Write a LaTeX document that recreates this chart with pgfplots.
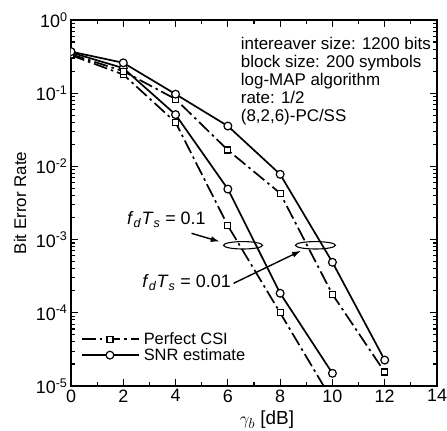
\documentclass[border=0pt]{standalone}
\usepackage{fontspec}
\setmainfont{Liberation Sans}
\usepackage{pgfplots}
\pgfplotsset{compat=1.18}
\usetikzlibrary{calc,arrows.meta}

\newcommand{\fdts}{\textit{f}\textsubscript{\textit{d}}\textit{T}\textsubscript{\textit{s}}}

\pgfplotsset{
  csi/.style={black, line width=1.7bp, dash pattern=on 14bp off 4bp on 2.5bp off 4bp,
    mark=square*, mark size=3bp, mark options={solid, fill=white, line width=1.2bp}},
  snr/.style={black, line width=1.7bp, solid,
    mark=*, mark size=3.9bp, mark options={solid, fill=white, line width=1.2bp}},
}

\begin{document}
\begin{tikzpicture}
\begin{axis}[
  name=ax,
  scale only axis, width=366bp, height=366bp,
  ymode=log,
  xmin=0, xmax=14, ymin=1e-5, ymax=1,
  xtick={0,2,...,14}, minor x tick num=1,
  ytick={1e-5,1e-4,1e-3,1e-2,1e-1,1},
  yticklabels={10\textsuperscript{-5},10\textsuperscript{-4},10\textsuperscript{-3},
    10\textsuperscript{-2},10\textsuperscript{-1},10\textsuperscript{0}},
  tick align=inside, tick pos=both,
  major tick length=7bp, minor tick length=4bp,
  every tick/.style={black, line width=1.1bp},
  axis line style={line width=1.5bp},
  xticklabel style={/pgf/number format/assume math mode=true, font=\fontsize{18}{18}\selectfont},
  yticklabel style={font=\fontsize{18}{18}\selectfont},
  xlabel={$\gamma_b$ [dB]},
  ylabel={Bit Error Rate},
  every axis x label/.style={at={(axis description cs:0.5355,-0.093)}, anchor=center,
    font=\fontsize{19}{19}\selectfont},
  every axis y label/.style={at={(axis description cs:-0.139,0.5)}, anchor=center, rotate=90,
    font=\fontsize{17}{17}\selectfont},
  clip marker paths=true,
  legend cell align=left,
  legend style={draw=none, fill=none, at={(rel axis cs:0.027,0.06)}, anchor=south west,
    font=\fontsize{16.5}{16.5}\selectfont, row sep=-1.5bp, inner sep=0pt,
    nodes={inner xsep=4bp}},
  legend image code/.code={
    \draw[mark repeat=2, mark phase=2, #1] plot coordinates {(0bp,0bp) (28bp,0bp) (57bp,0bp)};},
]
% f_d T_s = 0.1
\addplot[csi] coordinates {(0,0.33) (2,0.18) (4,0.040) (6,1.55e-3) (8,1.0e-4) (10,6.3e-6)};
\addlegendentry{Perfect CSI}
\addplot[snr] coordinates {(0,0.36) (2,0.22) (4,0.051) (6,4.9e-3) (8,1.85e-4) (10,1.49e-5)};
\addlegendentry{SNR estimate}
% f_d T_s = 0.01
\addplot[csi, forget plot] coordinates {(0,0.34) (2,0.20) (4,0.083) (6,0.0167) (8,4.3e-3) (10,1.79e-4) (12,1.55e-5)};
\addplot[snr, forget plot] coordinates {(0,0.37) (2,0.26) (4,0.097) (6,0.0356) (8,7.8e-3) (10,4.9e-4) (12,2.26e-5)};

\node[anchor=north west, align=left, inner sep=0pt, font=\fontsize{17}{18}\selectfont]
  at (rel axis cs:0.4637,0.954) {intereaver size: 1200 bits\\block size: 200 symbols\\log-MAP algorithm\\rate: 1/2\\(8,2,6)-PC/SS};

\draw[line width=1.1bp] (axis cs:6.58,8.36e-4) ellipse [x radius=19.5bp, y radius=3.7bp];
\draw[line width=1.1bp] (axis cs:9.35,8.36e-4) ellipse [x radius=20bp, y radius=3.7bp];
\draw[line width=1.4bp, -{Latex[length=9bp,width=6bp]}] (axis cs:4.61,1.219e-3) -- (axis cs:5.69,9.376e-4);
\draw[line width=1.4bp, -{Latex[length=9bp,width=6bp]}] (axis cs:6.22,2.53e-4) -- (axis cs:8.80,7.05e-4);
\node[font=\fontsize{18}{18}\selectfont] at (axis cs:3.65,1.862e-3) {\fdts{} = 0.1};
\node[font=\fontsize{18}{18}\selectfont] at (axis cs:4.42,2.57e-4) {\fdts{} = 0.01};
\end{axis}
\pgfresetboundingbox
\path ($(ax.south west)+(-71bp,-45bp)$) rectangle ($(ax.north east)+(10bp,20bp)$);
\end{tikzpicture}
\end{document}
